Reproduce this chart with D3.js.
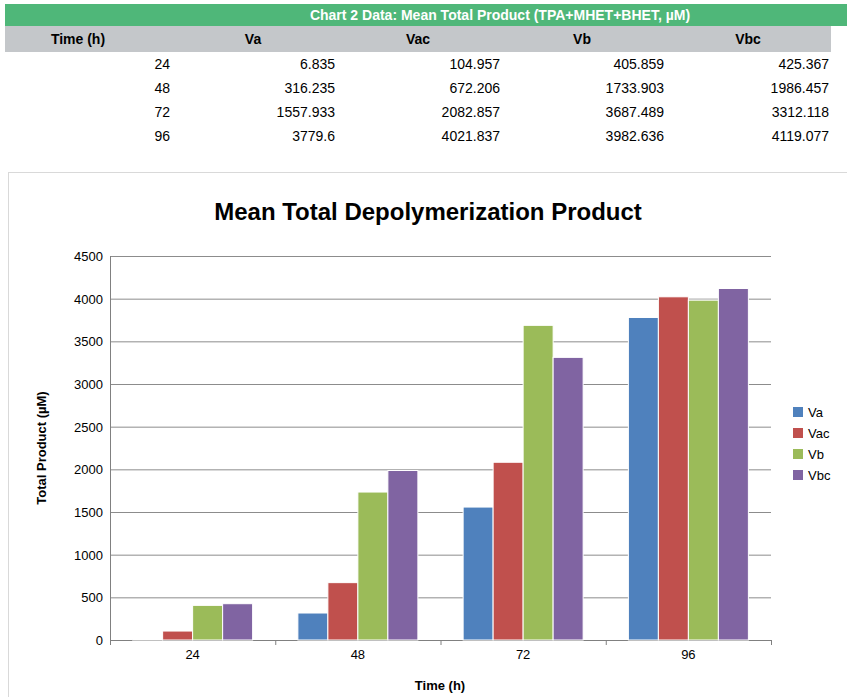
<!DOCTYPE html><html><head><meta charset="utf-8"><script src="https://cdn.jsdelivr.net/npm/d3@7"></script>
<style>body{margin:0;background:#fff;font-family:Calibri,"Liberation Sans",Arial,sans-serif}</style></head><body>
<svg id="s" width="847" height="697"></svg>
<script>
const times=["24","48","72","96"];
const seriesNames=["Va","Vac","Vb","Vbc"];
const Va=[6.835,316.235,1557.933,3779.6];
const Vac=[104.957,672.206,2082.857,4021.837];
const Vb=[405.859,1733.903,3687.489,3982.636];
const Vbc=[425.367,1986.457,3312.118,4119.077];
const yTicks=[0,500,1000,1500,2000,2500,3000,3500,4000,4500];
const colors=["#4f81bd","#c0504d","#9bbb59","#8064a2"];
const series=[Va,Vac,Vb,Vbc];
const svg=d3.select("#s");
const F="Liberation Sans, Arial, sans-serif";
// table
svg.append("rect").attr("x",5).attr("y",4).attr("width",842).attr("height",22).attr("fill","#4fb779");
svg.append("text").attr("x",500).attr("y",20).attr("text-anchor","middle").attr("fill","#fff").attr("font-weight","bold").attr("font-size",14).attr("font-family",F).text("Chart 2 Data: Mean Total Product (TPA+MHET+BHET, µM)");
svg.append("rect").attr("x",5).attr("y",26).attr("width",826).attr("height",26).attr("fill","#c4c7ca");
const hdrX=[78,253,418,582,748];
["Time (h)",...seriesNames].forEach((t,i)=>svg.append("text").attr("x",hdrX[i]).attr("y",44).attr("text-anchor","middle").attr("font-weight","bold").attr("font-size",14).attr("font-family",F).text(t));
const colR=[170,335,500,664,829];
times.forEach((t,r)=>{const vals=[t,...series.map(s=>s[r])];vals.forEach((v,i)=>svg.append("text").attr("x",colR[i]).attr("y",69+r*24).attr("text-anchor","end").attr("font-size",14).attr("font-family",F).text(v));});
// chart box
svg.append("rect").attr("x",8.5).attr("y",172.5).attr("width",845).attr("height",530).attr("fill","#fff").attr("stroke","#d9d9d9");
svg.append("text").attr("x",428).attr("y",220).attr("text-anchor","middle").attr("font-weight","bold").attr("font-size",24).attr("font-family",F).text("Mean Total Depolymerization Product");
const x=d3.scaleBand().domain(times).range([110,771]);
const y=d3.scaleLinear().domain([0,4500]).range([640,256]);
const g=svg.append("g");
yTicks.forEach(t=>{g.append("line").attr("x1",110).attr("x2",771).attr("y1",y(t)+.5).attr("y2",y(t)+.5).attr("stroke",t?"#8c8c8c":"#808080");
g.append("text").attr("x",103).attr("y",y(t)+5).attr("text-anchor","end").attr("font-size",13).attr("font-family",F).text(t);});
g.append("line").attr("x1",110.5).attr("x2",110.5).attr("y1",256).attr("y2",645).attr("stroke","#808080");
times.forEach(t=>{g.append("line").attr("x1",x(t)+x.bandwidth()+.5).attr("x2",x(t)+x.bandwidth()+.5).attr("y1",640).attr("y2",645).attr("stroke","#808080");
g.append("text").attr("x",x(t)+x.bandwidth()/2).attr("y",659).attr("text-anchor","middle").attr("font-size",13).attr("font-family",F).text(t);});
const inner=d3.scaleBand().domain(seriesNames).range([0,120]);
series.forEach((s,si)=>s.forEach((v,i)=>{const bx=x(times[i])+(x.bandwidth()-120)/2+inner(seriesNames[si]);
g.append("rect").attr("x",bx).attr("y",y(v)).attr("width",inner.bandwidth()).attr("height",640-y(v)).attr("fill",colors[si]).attr("stroke","#fff").attr("stroke-width",1);}));
svg.append("text").attr("x",440).attr("y",690).attr("text-anchor","middle").attr("font-weight","bold").attr("font-size",13).attr("font-family",F).text("Time (h)");
svg.append("text").attr("transform","translate(46,448) rotate(-90)").attr("text-anchor","middle").attr("font-weight","bold").attr("font-size",13).attr("font-family",F).text("Total Product (µM)");
seriesNames.forEach((n,i)=>{svg.append("rect").attr("x",793).attr("y",407+i*21).attr("width",10).attr("height",10).attr("fill",colors[i]);
svg.append("text").attr("x",808).attr("y",417+i*21).attr("font-size",13).attr("font-family",F).text(n);});
</script></body></html>
